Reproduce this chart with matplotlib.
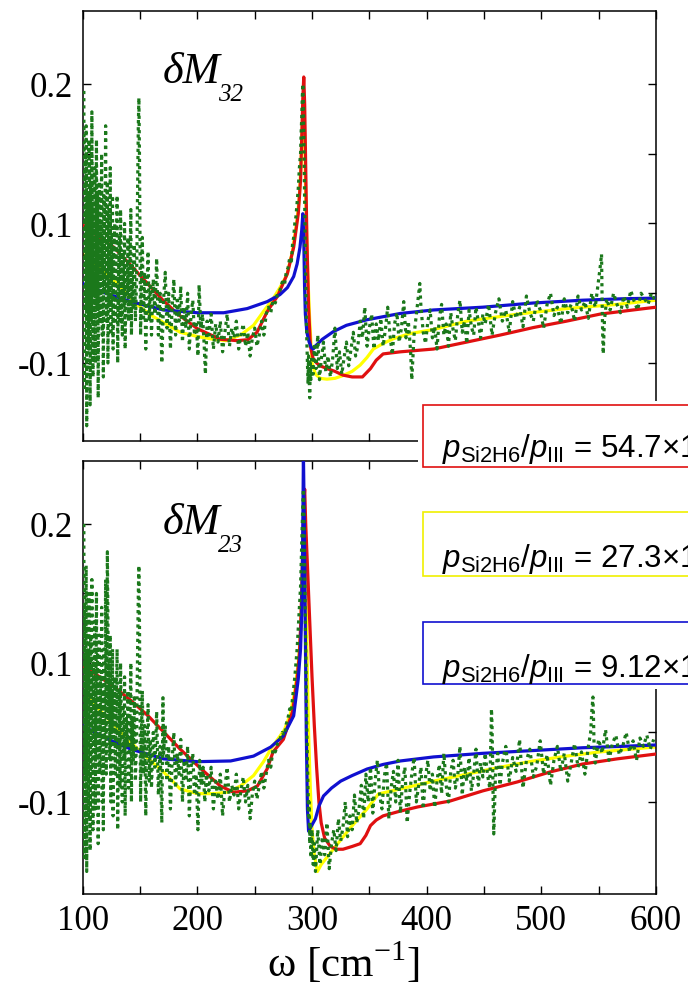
import matplotlib
matplotlib.use("Agg")
import matplotlib.pyplot as plt
from matplotlib.patches import Rectangle

# ---------------- data ----------------
omega_ticks = [100, 150, 200, 250, 300, 350, 400, 450, 500, 550, 600]
omega_ticklabels = ["100", "", "200", "", "300", "", "400", "", "500", "", "600"]
dm_ticks = [0.0, 0.05, 0.1, 0.15, 0.2]
dm_ticklabels = ["-0.1", "", "0.1", "", "0.2"]

panel_names = ["32", "23"]
ratio_labels = ["54.7", "27.3", "9.12"]

# --- panel dM32 : fitted curves ---
red32_w = [100, 113, 127, 142, 157, 170, 183, 200, 220, 235, 244, 252, 261, 270, 278.5,
           284, 288, 290, 291, 292, 292.8, 293.6, 294.5, 295.5, 297, 298.6, 301, 304, 307, 313,
           320, 327, 335, 344, 351, 356, 362, 377, 406, 435, 464, 493, 522, 551, 580, 600]
red32_v = [0.099, 0.091, 0.083, 0.07, 0.0565, 0.045, 0.035, 0.0246, 0.017, 0.016, 0.0167, 0.022, 0.037, 0.048, 0.064,
           0.083, 0.107, 0.131, 0.16, 0.19, 0.205, 0.185, 0.14, 0.09, 0.04, 0.012, 0.003, 0.0, -0.002, -0.004,
           -0.006, -0.0087, -0.01, -0.01, -0.004, 0.002, 0.0065, 0.008, 0.010, 0.015, 0.020, 0.0254, 0.030, 0.035, 0.038, 0.040]
yel32_w = [100, 115, 130, 147, 160, 185, 200, 214, 225, 237.6, 249, 257.7, 266, 272, 278,
           283, 287, 289, 290.5, 291.5, 292.5, 293.5, 294.5, 296, 298, 300, 303, 307, 313, 320,
           327, 335, 342, 348, 353.5, 362, 371, 385, 406, 435, 479, 522, 566, 600]
yel32_v = [0.078, 0.068, 0.057, 0.042, 0.034, 0.022, 0.019, 0.017, 0.016, 0.02, 0.027, 0.037, 0.046, 0.054, 0.063,
           0.08, 0.103, 0.12, 0.145, 0.17, 0.19, 0.165, 0.12, 0.07, 0.03, 0.0, -0.008, -0.011, -0.0116, -0.011,
           -0.009, -0.006, -0.0015, 0.004, 0.01, 0.014, 0.0174, 0.021, 0.024, 0.03, 0.035, 0.039, 0.042, 0.045]
blu32_w = [100, 120, 142, 170.5, 200, 223, 243.5, 261, 272, 278.5, 284, 287, 289.5, 291, 292,
           292.8, 293.5, 294.2, 295.5, 297.5, 299.5, 301, 304, 309, 318.6, 330, 348, 377, 406, 449,
           493, 536, 570, 600]
blu32_v = [0.057, 0.05, 0.044, 0.038, 0.036, 0.036, 0.039, 0.044, 0.049, 0.054, 0.062, 0.071, 0.083, 0.095, 0.107,
           0.09, 0.055, 0.035, 0.022, 0.015, 0.011, 0.010, 0.013, 0.017, 0.0225, 0.027, 0.031, 0.0355, 0.038, 0.040,
           0.043, 0.045, 0.046, 0.0465]

# --- panel dM32 : measured (green dotted) ---
grn32_w = [101, 101.5, 102, 102.5, 103, 103.5, 104, 104.5, 105, 105.5, 106, 106.5, 107, 107.5, 108, 108.5,
           109, 109.5, 110, 110.5, 111, 111.5, 112, 112.5, 113, 113.5, 114, 114.5, 115, 115.5, 116, 116.5,
           117, 117.5, 118, 118.5, 119, 119.5, 120, 120.5, 121, 121.5, 122, 122.5, 123, 123.5, 124, 124.5, 125,
           125.5, 126, 126.5, 127, 128, 128.5, 129, 130, 130.5, 131, 132, 132.5, 133, 134, 134.5, 135, 136,
           136.5, 137, 138, 139, 139.5, 140, 141, 142, 142.5, 143, 144, 145, 146, 147, 148, 148.5, 149, 149.5,
           150, 150.5, 151, 152, 153, 154, 155, 156, 157, 158, 159,
           160, 161.5, 163, 164.5, 166, 167.5, 169, 170.5, 172, 173.5, 175, 176.5, 178, 179.5, 181, 182.5,
           184, 185.5, 187, 188.5, 190, 191.5, 193, 194.5, 196, 197.5, 199, 200.5, 201.5, 203, 204.5, 206, 207, 208.5,
           210, 212, 214, 216, 218, 220, 222, 224, 226, 228, 230, 232, 234, 236, 238, 240, 242, 244, 246, 248,
           250, 252, 254, 256, 258, 260,
           262, 264, 266, 268, 270, 272, 274, 276, 277.5, 279, 280.5, 282, 283, 284, 285, 286, 287, 288, 289,
           290, 290.5, 291, 291.5, 292,
           292.5, 293, 293.5, 294, 294.5, 295, 295.5, 296, 296.5, 297, 297.5, 298, 298.5, 299, 300,
           301, 302, 303.5, 305, 306.5, 308, 310, 312, 314, 316, 318, 320, 322, 324, 326, 328, 330, 332, 334,
           336, 338, 340, 342, 344, 346, 348, 350, 352, 354, 356, 358,
           360, 362, 364, 366, 368, 370, 372, 374, 376, 378, 380, 382, 384, 386, 387, 389, 391, 393, 394, 395,
           397, 399, 401, 403, 405, 407, 409, 411, 413, 415, 417, 419, 421, 423, 425, 427, 429, 431, 433, 435,
           437, 439, 441, 443, 445, 447, 449,
           451, 454, 457, 460, 463, 466, 469, 472, 475, 478, 481, 484, 487, 490, 493, 496, 499, 502, 505, 508,
           511, 514, 517, 520, 523, 526, 529, 532, 535, 538, 541, 544, 547, 550, 551.5, 552.5, 553, 553.5, 554,
           555, 557, 560, 563, 566, 569, 572, 575, 578, 581, 584, 587, 590, 593, 596, 599]
grn32_v = [0.195, -0.02, 0.15, 0.04, 0.17, -0.045, 0.09, 0.12, 0.01, 0.16, 0.06, -0.03, 0.13, 0.03, 0.18, 0.07,
           -0.01, 0.11, 0.05, 0.14, 0.0, 0.09, 0.16, 0.04, 0.12, -0.025, 0.08, 0.13, 0.03, 0.1, 0.06, 0.15,
           0.02, 0.09, -0.01, 0.12, 0.05, 0.1, 0.17, 0.03, 0.08, 0.13, 0.0, 0.07, 0.11, 0.04, 0.14, 0.02, 0.09,
           0.06, 0.12, 0.01, 0.08, 0.1, 0.03, 0.07, 0.12, 0.0, 0.05, 0.09, 0.03, 0.11, 0.06, 0.02, 0.08, 0.04,
           0.1, 0.01, 0.07, 0.05, 0.09, 0.03, 0.06, 0.11, 0.02, 0.07, 0.04, 0.085, 0.03, 0.06, 0.13, 0.17, 0.19, 0.15,
           0.08, 0.02, 0.05, 0.09, 0.03, 0.065, 0.01, 0.05, 0.08, 0.03, 0.055,
           0.02, 0.06, 0.035, 0.075, 0.02, 0.05, 0.0, 0.045, 0.065, 0.025, 0.05, 0.01, 0.04, 0.06, 0.02, 0.045,
           0.03, 0.055, 0.015, 0.04, 0.025, 0.05, 0.01, 0.035, 0.045, 0.02, 0.03, 0.005, 0.056, 0.025, 0.035, 0.012, -0.008, 0.03,
           0.02, 0.035, 0.01, 0.028, 0.015, 0.03, 0.008, 0.022, 0.035, 0.012, 0.025, 0.018, 0.03, 0.01, 0.02, 0.028, 0.012, 0.022, 0.005, 0.018,
           0.025, 0.012, 0.02, 0.03, 0.02, 0.035,
           0.04, 0.036, 0.045, 0.043, 0.05, 0.052, 0.058, 0.056, 0.065, 0.068, 0.075, 0.073, 0.085, 0.09, 0.1, 0.105, 0.115, 0.125, 0.14,
           0.15, 0.165, 0.175, 0.19, 0.2,
           0.185, 0.15, 0.12, 0.09, 0.06, 0.035, 0.015, 0.0, -0.015, 0.005, -0.01, -0.025, 0.0, -0.012, 0.005,
           -0.008, 0.012, -0.004, 0.02, -0.012, 0.002, 0.015, -0.006, 0.005, -0.01, 0.003, 0.025, -0.004, 0.008, -0.008, 0.004, 0.015, -0.002, 0.01,
           0.022, 0.005, 0.012, 0.03, 0.018, 0.04, 0.012, 0.025, 0.035, 0.01, 0.028, 0.016,
           0.032, 0.012, 0.024, 0.04, 0.02, 0.006, 0.028, 0.036, 0.015, 0.025, 0.044, 0.018, 0.03, 0.008, -0.012, 0.02, 0.035, 0.05, 0.057, 0.04,
           0.022, 0.014, 0.03, 0.038, 0.018, 0.026, 0.01, 0.032, 0.042, 0.02, 0.028, 0.012, 0.036, 0.024, 0.016, 0.034, 0.045, 0.022, 0.03, 0.014,
           0.038, 0.026, 0.02, 0.04, 0.03, 0.018, 0.035,
           0.028, 0.042, 0.02, 0.036, 0.046, 0.03, 0.038, 0.022, 0.044, 0.032, 0.04, 0.026, 0.048, 0.036, 0.03, 0.045, 0.038, 0.025, 0.042, 0.05,
           0.034, 0.04, 0.028, 0.046, 0.036, 0.042, 0.03, 0.048, 0.038, 0.044, 0.032, 0.05, 0.04, 0.06, 0.07, 0.078, 0.045, 0.02, 0.0065,
           0.03, 0.046, 0.038, 0.05, 0.042, 0.036, 0.048, 0.04, 0.052, 0.044, 0.038, 0.05, 0.046, 0.042, 0.05, 0.045]

# --- panel dM23 : fitted curves ---
red23_w = [100, 113, 127, 142, 157, 171, 185, 203, 220, 231.5, 243.7, 252.4, 261, 266, 275,
           283, 287, 289, 290, 291, 292, 292.8, 293.6, 294.5, 296, 298, 300, 302, 304, 306,
           308, 311, 316, 321, 327, 335, 342, 347, 351, 356, 362, 375, 392, 420.5, 449,
           479, 507.6, 536, 566, 600]
red23_v = [0.098, 0.091, 0.083, 0.073, 0.062, 0.05, 0.038, 0.024, 0.0115, 0.007, 0.008, 0.0115, 0.024, 0.036, 0.045,
           0.065, 0.0885, 0.106, 0.125, 0.15, 0.185, 0.215, 0.225, 0.2, 0.17, 0.13, 0.09, 0.055, 0.025, 0.0,
           -0.015, -0.026, -0.032, -0.034, -0.034, -0.032, -0.03, -0.024, -0.017, -0.013, -0.01, -0.007, -0.0036, 0.0007, 0.008,
           0.0144, 0.0216, 0.0273, 0.031, 0.0345]
yel23_w = [100, 115, 130, 150.5, 170.5, 185, 200, 214, 226, 237.6, 249, 257.7, 264, 270, 276,
           281, 285, 288, 290, 291, 292, 293, 294, 295, 296, 297, 298.5, 300, 302, 304.7,
           308, 318.6, 333, 348, 358, 377, 406, 435, 464, 493, 522, 551, 600]
yel23_v = [0.079, 0.066, 0.053, 0.036, 0.0216, 0.0094, 0.006, 0.006, 0.007, 0.0115, 0.019, 0.029, 0.038, 0.045, 0.052,
           0.063, 0.08, 0.1, 0.12, 0.145, 0.18, 0.21, 0.19, 0.14, 0.09, 0.05, 0.01, -0.02, -0.038, -0.05,
           -0.045, -0.034, -0.019, -0.005, 0.0058, 0.0094, 0.015, 0.02, 0.025, 0.0295, 0.033, 0.036, 0.0396]
blu23_w = [100, 120, 142, 170.5, 200, 229, 249, 264, 275, 284, 288, 290, 291, 291.8, 292.5,
           293.3, 294.2, 295, 296, 297, 299, 303, 306, 310, 317, 325, 335, 348, 362, 377,
           406, 449, 493, 536, 570, 600]
blu23_v = [0.0547, 0.046, 0.038, 0.031, 0.029, 0.0295, 0.033, 0.0395, 0.0475, 0.062, 0.0885, 0.11, 0.135, 0.18, 0.25,
           0.2, 0.12, 0.05, -0.005, -0.021, -0.018, -0.012, -0.003, 0.0043, 0.01, 0.015, 0.019, 0.0237, 0.027, 0.0295,
           0.0324, 0.035, 0.037, 0.039, 0.040, 0.041]

# --- panel dM23 : measured (green dotted) ---
grn23_w = [101, 101.5, 102, 102.5, 103, 103.5, 104, 104.5, 105, 105.5, 106, 106.5, 107, 107.5, 108, 108.5,
           109, 109.5, 110, 110.5, 111, 111.5, 112, 112.5, 113, 113.5, 114, 114.5, 115, 115.5, 116, 116.5,
           117, 117.5, 118, 118.5, 119, 119.5, 120, 120.5, 121, 121.5, 122, 122.5, 123, 123.5, 124, 124.5, 125,
           125.5, 126, 126.5, 127, 128, 128.5, 129, 130, 130.5, 131, 132, 132.5, 133, 134, 134.5, 135, 136,
           136.5, 137, 138, 139, 139.5, 140, 141, 142, 142.5, 143, 144, 145, 146, 147, 148, 148.5, 149, 149.5,
           150, 150.5, 151, 152, 153, 154, 155, 156, 157, 158, 159,
           160, 161.5, 163, 164.5, 166, 167.5, 169, 170, 170.5, 172, 173.5, 175, 176.5, 178, 179.5, 181, 182.5,
           184, 185.5, 187, 188.5, 190, 191.5, 193, 194.5, 196, 197.5, 199, 200.5, 202, 203.5, 205, 206.5, 208,
           210, 212, 214, 216, 218, 220, 222, 224, 226, 228, 230, 232, 234, 236, 238, 240, 242, 244, 246, 248,
           250, 252, 254, 256, 258, 260,
           262, 264, 266, 268, 270, 272, 274, 276, 277.5, 279, 280.5, 282, 283, 284, 285, 286, 287, 288, 289,
           290, 290.5, 291, 291.5, 292, 292.5,
           293, 293.5, 294, 294.5, 295, 295.5, 296, 296.5, 297, 297.5, 298, 298.5, 299, 300, 301, 302, 303, 304,
           305, 307, 309, 311, 313, 315, 317, 319, 321, 323, 325, 327, 329, 331, 333, 335, 337, 339, 341, 343,
           345, 347, 349, 351, 353, 355, 357, 359,
           361, 363, 365, 367, 369, 371, 373, 375, 377, 379, 381, 383, 385, 387, 389, 391, 393, 395, 397, 399,
           401, 403, 405, 407, 409, 411, 413, 415, 417, 419, 421, 423, 425, 427, 429, 431, 433, 435, 437, 439,
           441, 443, 445, 447, 449,
           451, 453, 455, 456, 456.5, 457, 457.5, 458, 458.5, 459, 460, 462, 464,
           466, 469, 472, 475, 478, 481, 484, 487, 490, 493, 496, 499, 502, 505, 508, 511, 514, 517, 520, 523,
           526, 529, 532, 535, 538, 541, 543, 544, 545, 545.5, 546, 547, 550, 553, 556, 559, 562, 565, 568, 571,
           574, 577, 580, 583, 586, 589, 592, 595, 598]
grn23_v = [0.2, -0.04, 0.14, 0.02, 0.17, -0.05, 0.08, 0.11, -0.01, 0.15, 0.05, -0.035, 0.12, 0.02, 0.16, 0.06,
           -0.02, 0.1, 0.04, 0.13, -0.005, 0.08, 0.15, 0.03, 0.11, -0.03, 0.07, 0.12, 0.02, 0.09, 0.05, 0.14,
           0.0, 0.08, -0.02, 0.11, 0.04, 0.09, 0.16, 0.02, 0.07, 0.18, 0.13, 0.06, 0.1, 0.03, 0.12, 0.0, 0.08,
           0.05, 0.11, -0.01, 0.07, 0.09, 0.02, 0.06, 0.11, -0.02, 0.04, 0.08, 0.01, 0.1, 0.05, 0.0, 0.07, 0.03,
           0.09, -0.01, 0.06, 0.04, 0.08, 0.01, 0.05, 0.1, 0.0, 0.06, 0.03, 0.075, 0.015, 0.05, 0.12, 0.15, 0.17, 0.13,
           0.07, 0.0, 0.04, 0.08, 0.02, 0.055, -0.01, 0.04, 0.07, 0.015, 0.045,
           0.01, 0.05, 0.025, 0.065, 0.005, 0.04, -0.015, 0.075, 0.035, 0.055, 0.015, 0.04, -0.005, 0.03, 0.05, 0.01, 0.035,
           0.02, 0.045, 0.0, 0.03, 0.015, 0.04, -0.01, 0.025, 0.035, 0.005, 0.02, -0.02, 0.03, 0.012, 0.025, 0.0, 0.02,
           0.008, 0.025, -0.005, 0.015, 0.002, 0.02, -0.01, 0.01, 0.025, 0.0, 0.012, 0.005, 0.02, -0.005, 0.008, 0.018, 0.0, 0.012, -0.012, 0.006,
           0.015, 0.002, 0.012, 0.022, 0.01, 0.02,
           0.03, 0.025, 0.038, 0.036, 0.042, 0.045, 0.05, 0.048, 0.056, 0.06, 0.067, 0.065, 0.075, 0.082, 0.09, 0.1, 0.11, 0.125, 0.14,
           0.155, 0.17, 0.185, 0.2, 0.215, 0.225,
           0.2, 0.17, 0.14, 0.11, 0.08, 0.05, 0.03, 0.01, -0.01, 0.0, -0.03, -0.015, -0.04, -0.02, -0.045, -0.03, -0.05, -0.035,
           -0.02, -0.045, -0.025, -0.038, -0.015, -0.048, -0.03, -0.02, -0.035, -0.012, -0.028, -0.018, 0.0, -0.025, -0.01, -0.02, 0.005, -0.015, -0.005, 0.012,
           -0.012, 0.02, 0.0, 0.025, -0.008, 0.015, 0.03, 0.005,
           -0.005, 0.018, 0.028, -0.012, 0.01, 0.022, 0.0, 0.03, -0.008, 0.015, 0.025, -0.015, 0.005, 0.02, 0.032, 0.0, 0.012, 0.025, -0.005, 0.018,
           0.03, 0.008, 0.02, -0.004, 0.015, 0.027, 0.006, 0.035, 0.012, 0.0, 0.022, 0.03, 0.01, 0.018, 0.04, 0.005, 0.025, 0.015, 0.032, 0.008,
           0.02, 0.038, 0.012, 0.028, 0.018,
           0.035, 0.02, 0.01, 0.045, 0.067, 0.055, 0.03, 0.0, -0.023, -0.01, 0.02, 0.035, 0.012,
           0.028, 0.04, 0.015, 0.032, 0.022, 0.045, 0.01, 0.03, 0.038, 0.018, 0.026, 0.044, 0.02, 0.034, 0.012, 0.03, 0.04, 0.022, 0.035, 0.015,
           0.028, 0.042, 0.025, 0.036, 0.02, 0.04, 0.05, 0.065, 0.0755, 0.06, 0.04, 0.028, 0.045, 0.035, 0.052, 0.03, 0.042, 0.048, 0.034, 0.04,
           0.05, 0.036, 0.044, 0.03, 0.046, 0.04, 0.048, 0.038, 0.045]

for a, b in [(red32_w, red32_v), (yel32_w, yel32_v), (blu32_w, blu32_v), (grn32_w, grn32_v),
             (red23_w, red23_v), (yel23_w, yel23_v), (blu23_w, blu23_v), (grn23_w, grn23_v)]:
    assert len(a) == len(b), (len(a), len(b))

# ---------------- style ----------------
plt.rcParams["font.family"] = ["Liberation Serif", "DejaVu Serif"]
plt.rcParams["mathtext.fontset"] = "custom"
plt.rcParams["mathtext.it"] = "Liberation Sans:italic"
plt.rcParams["mathtext.rm"] = "Liberation Sans"
plt.rcParams["mathtext.sf"] = "Liberation Sans"
plt.rcParams["mathtext.tt"] = "Liberation Serif"

C_RED = "#e01010"
C_YEL = "#ffff00"
C_BLU = "#1010d0"
C_GRN = "#1b781b"

W, H = 688, 995
fig = plt.figure(figsize=(W / 100, H / 100), dpi=100)


def fx(px):
    return px / W


def fy(py):
    return 1 - py / H


AX_L, AX_R = 82.7, 656.0
panels = [
    dict(top=11.7, bottom=441.7, ylim=(-0.0557, 0.2525),
         red=(red32_w, red32_v), yel=(yel32_w, yel32_v), blu=(blu32_w, blu32_v), grn=(grn32_w, grn32_v)),
    dict(top=461.7, bottom=895.0, ylim=(-0.0662, 0.2455),
         red=(red23_w, red23_v), yel=(yel23_w, yel23_v), blu=(blu23_w, blu23_v), grn=(grn23_w, grn23_v)),
]

axes = []
for i, p in enumerate(panels):
    ax = fig.add_axes([fx(AX_L), fy(p["bottom"]), (AX_R - AX_L) / W, (p["bottom"] - p["top"]) / H])
    ax.plot(*p["yel"], color=C_YEL, lw=2.3, zorder=2, solid_joinstyle="round")
    ax.plot(*p["red"], color=C_RED, lw=2.3, zorder=3, solid_joinstyle="round")
    ax.plot(*p["blu"], color=C_BLU, lw=2.3, zorder=4, solid_joinstyle="round")
    ax.plot(*p["grn"], color=C_GRN, lw=2.3, linestyle=(0, (1, 1.25)), zorder=5)
    ax.set_xlim(100, 600)
    ax.set_ylim(*p["ylim"])
    ax.set_xticks(omega_ticks)
    ax.set_yticks(dm_ticks)
    ax.set_yticklabels(dm_ticklabels)
    if i == 1:
        ax.set_xticklabels(omega_ticklabels)
    else:
        ax.set_xticklabels([])
    ax.tick_params(direction="in", length=6, width=1.0, top=True, right=True,
                   labelsize=25, pad=7)
    for s in ax.spines.values():
        s.set_linewidth(1.1)
    axes.append(ax)

# panel labels  dM_32 / dM_23
for ax, name in zip(axes, panel_names):
    ax.text(0.140, 0.834, "δM", transform=ax.transAxes, fontsize=32, style="italic",
            family="Liberation Serif", va="baseline", ha="left")
    ax.text(0.236, 0.792, name, transform=ax.transAxes, fontsize=18, style="italic",
            family="Liberation Serif", va="baseline", ha="left")

fig.text(fx(343), fy(977), r"ω [cm$^{\mathtt{-1}}$]", ha="center", va="baseline", fontsize=31)

# legend boxes (overlay)
ov = fig.add_axes([0, 0, 1, 1])
ov.set_axis_off()
ov.set_xlim(0, W)
ov.set_ylim(H, 0)
ov.add_patch(Rectangle((418, 402), 300, 288, facecolor="white", edgecolor="none", zorder=1))
box_tops = [406, 513, 623]
box_bottoms = [468, 577, 685]
baselines = [457, 567, 677]
box_colors = [C_RED, "#f0f000", C_BLU]
for lab, t, b, bl, col in zip(ratio_labels, box_tops, box_bottoms, baselines, box_colors):
    ov.add_patch(Rectangle((423, t), 300, b - t, facecolor="white", edgecolor=col, lw=1.2, zorder=2))
    ov.text(442, bl, r"$p_{\mathrm{Si2H6}}/p_{\mathrm{III}}$ = " + lab + "×10",
            family="Liberation Sans", fontsize=22.5, va="baseline", ha="left", zorder=3)

fig.savefig("out.png", dpi=100)
